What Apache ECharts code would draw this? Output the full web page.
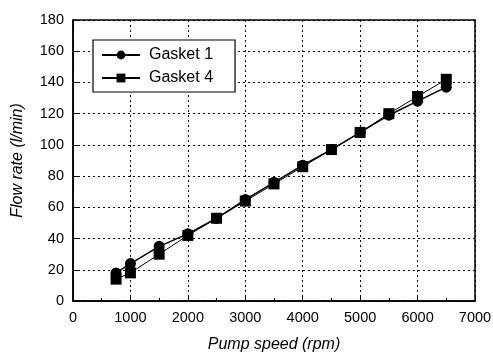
<!DOCTYPE html>
<html><head><meta charset="utf-8">
<script src="https://cdn.jsdelivr.net/npm/echarts@6/dist/echarts.min.js"></script>
<style>html,body{margin:0;padding:0;background:#fff}#c{width:493px;height:356px}</style>
</head><body><div id="c"></div>
<script>
const speeds = [750, 1000, 1500, 2000, 2500, 3000, 3500, 4000, 4500, 5000, 5500, 6000, 6500];
const gasket1 = [18, 24, 35, 43, 53, 65, 76, 87, 97, 108, 119, 128, 137];
const gasket4 = [14, 18, 30, 42, 53, 64, 75, 86, 97, 108, 120, 131, 142];
const seriesNames = ['Gasket 1', 'Gasket 4'];

const chart = echarts.init(document.getElementById('c'));
const font = 'Liberation Sans, Arial, sans-serif';
chart.setOption({
  animation: false,
  backgroundColor: '#fff',
  grid: { left: 73, right: 18, top: 20, bottom: 55, show: true, borderColor: '#000', borderWidth: 1.5, outerBoundsMode: 'none', containLabel: false },
  legend: {
    left: 93, top: 40, orient: 'vertical',
    borderColor: '#000', borderWidth: 1.2, padding: [7, 22, 6, 8],
    itemWidth: 38, itemHeight: 11, itemGap: 7,
    backgroundColor: '#fff',
    textStyle: { fontFamily: font, fontSize: 16, color: '#000', padding: [0, 0, 0, 4] },
    data: seriesNames
  },
  xAxis: {
    type: 'value', min: 0, max: 7000, interval: 1000,
    name: 'Pump speed (rpm)', nameLocation: 'middle', nameGap: 36,
    nameTextStyle: { fontFamily: font, fontSize: 16, fontStyle: 'italic', color: '#000' },
    axisLine: { lineStyle: { color: '#000', width: 1.5 } },
    axisTick: { inside: true, length: 5, lineStyle: { color: '#000' } },
    minorTick: { show: true, splitNumber: 2, length: 3, lineStyle: { color: '#000' } },
    axisLabel: { fontFamily: font, fontSize: 14.5, color: '#000', margin: 9, formatter: v => String(v) },
    splitLine: { show: true, lineStyle: { color: '#000', type: [2, 3], width: 1 } }
  },
  yAxis: {
    type: 'value', min: 0, max: 180, interval: 20,
    name: 'Flow rate (l/min)', nameLocation: 'middle', nameGap: 47,
    nameTextStyle: { fontFamily: font, fontSize: 16, fontStyle: 'italic', color: '#000' },
    axisLine: { lineStyle: { color: '#000', width: 1.5 } },
    axisTick: { inside: true, length: 5, lineStyle: { color: '#000' } },
    axisLabel: { fontFamily: font, fontSize: 14.5, color: '#000', margin: 9 },
    splitLine: { show: true, lineStyle: { color: '#000', type: [2, 3], width: 1 } }
  },
  series: [
    {
      name: seriesNames[0], type: 'line',
      data: speeds.map((s, i) => [s, gasket1[i]]),
      symbol: 'circle', symbolSize: 11,
      lineStyle: { color: '#000', width: 1.5 },
      itemStyle: { color: '#000' }
    },
    {
      name: seriesNames[1], type: 'line',
      data: speeds.map((s, i) => [s, gasket4[i]]),
      symbol: 'rect', symbolSize: 11,
      lineStyle: { color: '#000', width: 1 },
      itemStyle: { color: '#000' }
    }
  ]
});
</script></body></html>
